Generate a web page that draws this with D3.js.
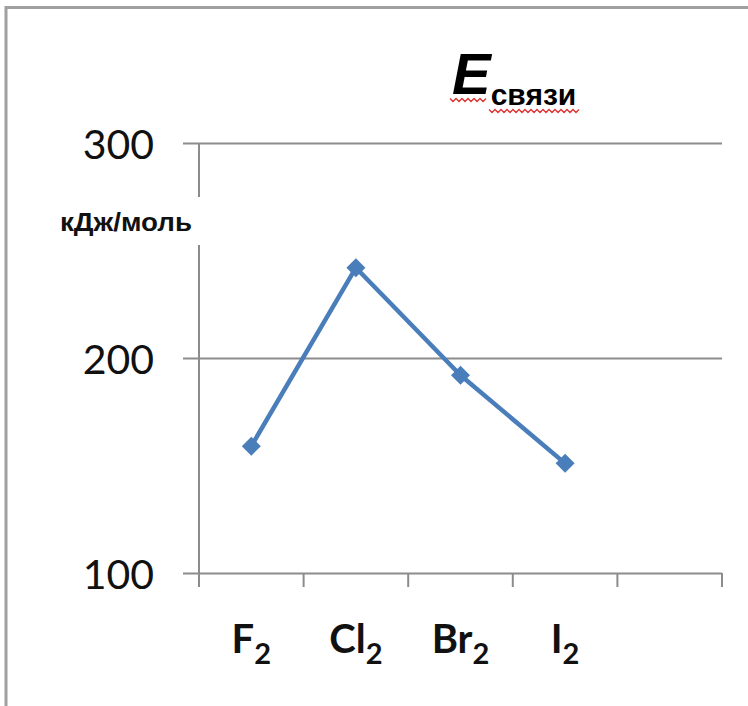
<!DOCTYPE html>
<html>
<head>
<meta charset="utf-8">
<script src="https://cdn.jsdelivr.net/npm/d3@7"></script>
<style>
  html, body { margin: 0; padding: 0; background: #fff; }
  svg { display: block; }
</style>
</head>
<body>
<svg id="chart" width="748" height="706"></svg>
<script>
// Bond energies of the halogen molecules, kJ/mol
const elements = ["F", "Cl", "Br", "I"];
const subscripts = ["2", "2", "2", "2"];
const energies = [159, 242, 192, 151];
const yTicks = [100, 200, 300];
const slotCount = 5; // one extra empty slot on the category axis

const svg = d3.select("#chart");
const plot = { left: 199, right: 722, top: 143, bottom: 573 };

// Outer frame of the chart area
svg.append("path")
  .attr("d", "M6,706 L6,7.5 L748,7.5")
  .attr("fill", "none")
  .attr("stroke", "#a0a0a0")
  .attr("stroke-width", 3);

const x = d3.scaleBand()
  .domain(d3.range(slotCount))
  .range([plot.left, plot.right])
  .paddingInner(0).paddingOuter(0);

const y = d3.scaleLinear()
  .domain([100, 300])
  .range([plot.bottom, plot.top]);

// Horizontal gridlines with outside tick marks
const yAxis = d3.axisLeft(y)
  .tickValues(yTicks)
  .tickSize(plot.right - plot.left + 16)
  .tickSizeOuter(0)
  .tickPadding(0)
  .tickFormat("");
svg.append("g")
  .attr("transform", `translate(${plot.right},0)`)
  .call(yAxis)
  .call(g => g.select(".domain").remove())
  .call(g => g.selectAll(".tick line").attr("stroke", "#8c8c8c").attr("stroke-width", 2));

// Value labels on the vertical axis
svg.append("g").selectAll("text")
  .data(yTicks)
  .join("text")
  .attr("x", 154)
  .attr("y", d => y(d) + 16)
  .attr("text-anchor", "end")
  .attr("font-family", "Lato, 'Open Sans', sans-serif")
  .attr("font-size", 41)
  .attr("fill", "#111")
  .text(d => d);

// Vertical axis line
svg.append("line")
  .attr("x1", plot.left).attr("x2", plot.left)
  .attr("y1", plot.top).attr("y2", plot.bottom)
  .attr("stroke", "#8c8c8c").attr("stroke-width", 2);

// Category tick marks at slot boundaries
const boundaries = d3.range(slotCount).map(i => x(i)).concat([plot.right]);
svg.append("g").selectAll("line")
  .data(boundaries)
  .join("line")
  .attr("x1", d => d).attr("x2", d => d)
  .attr("y1", plot.bottom).attr("y2", plot.bottom + 14)
  .attr("stroke", "#8c8c8c").attr("stroke-width", 2);

// Unit label with a white backing over the axis
const unitG = svg.append("g");
unitG.append("rect")
  .attr("x", 52).attr("y", 197).attr("width", 153).attr("height", 48)
  .attr("fill", "#fff");
unitG.append("text")
  .attr("x", 60).attr("y", 231)
  .attr("font-family", "'Liberation Sans', Arial, sans-serif")
  .attr("font-size", 26)
  .attr("font-weight", "bold")
  .attr("textLength", 132)
  .attr("lengthAdjust", "spacingAndGlyphs")
  .attr("fill", "#111")
  .text("кДж/моль");

// Category labels with subscripts
const cx = i => x(i) + x.bandwidth() / 2;
const catLabels = svg.append("g").selectAll("text")
  .data(elements)
  .join("text")
  .attr("x", (d, i) => cx(i))
  .attr("y", 653)
  .attr("text-anchor", "middle")
  .attr("font-family", "Lato, 'Open Sans', sans-serif")
  .attr("font-weight", "bold")
  .attr("font-size", 40)
  .attr("fill", "#111");
catLabels.append("tspan").text(d => d);
catLabels.append("tspan")
  .attr("font-size", 29)
  .attr("dy", 11)
  .text((d, i) => subscripts[i]);

// Data line
const line = d3.line()
  .x((d, i) => cx(i))
  .y(d => y(d));
svg.append("path")
  .datum(energies)
  .attr("d", line)
  .attr("fill", "none")
  .attr("stroke", "#4a7ebb")
  .attr("stroke-width", 4.5)
  .attr("stroke-linejoin", "round");

// Diamond markers
const diamond = d3.symbol().type(d3.symbolDiamond2).size(230);
svg.append("g").selectAll("path")
  .data(energies)
  .join("path")
  .attr("d", diamond)
  .attr("transform", (d, i) => `translate(${cx(i)},${y(d)})`)
  .attr("fill", "#4a7ebb");

// Title: E with subscript "связи"
const title = svg.append("text")
  .attr("x", 452).attr("y", 94)
  .attr("font-family", "'Liberation Sans', Arial, sans-serif")
  .attr("font-weight", "bold")
  .attr("fill", "#000");
title.append("tspan")
  .attr("font-size", 58)
  .attr("font-style", "italic")
  .text("E");
title.append("tspan")
  .attr("font-size", 30)
  .attr("dy", 11)
  .attr("dx", 0)
  .text("связи");

// Red wavy underlines (spell-check marks) under the title
function wave(x0, x1, yy) {
  const pts = d3.range(x0, x1 + 1, 3).map((px, k) => [px, yy + (k % 2 ? 1.5 : -1.5)]);
  svg.append("path")
    .attr("d", d3.line()(pts))
    .attr("fill", "none")
    .attr("stroke", "#e03030")
    .attr("stroke-width", 1.3);
}
wave(450, 488, 100);
wave(489, 580, 111);
</script>
</body>
</html>
